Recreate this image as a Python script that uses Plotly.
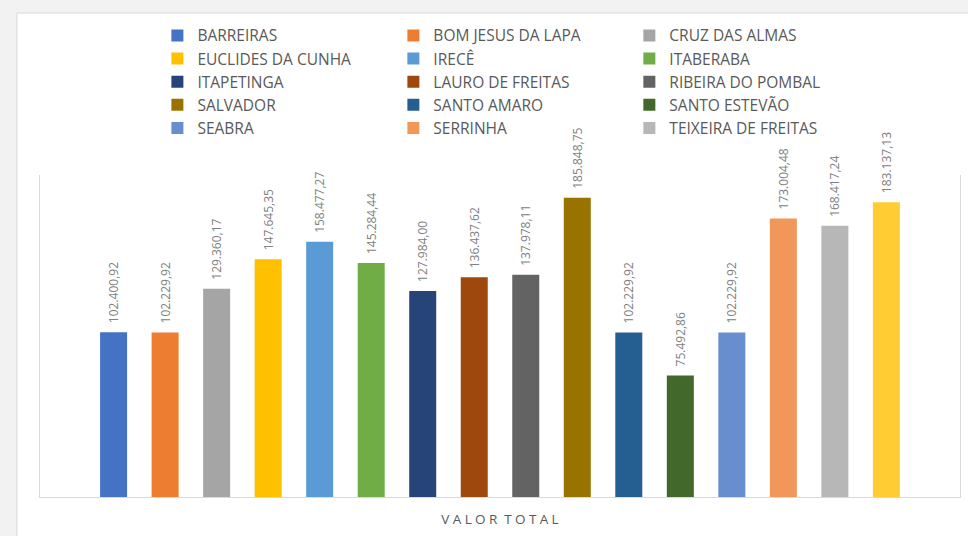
import plotly.graph_objects as go

names = ["BARREIRAS", "BOM JESUS DA LAPA", "CRUZ DAS ALMAS", "EUCLIDES DA CUNHA",
         "IRECÊ", "ITABERABA", "ITAPETINGA", "LAURO DE FREITAS", "RIBEIRA DO POMBAL",
         "SALVADOR", "SANTO AMARO", "SANTO ESTEVÃO", "SEABRA", "SERRINHA",
         "TEIXEIRA DE FREITAS", ""]
values = [102400.92, 102229.92, 129360.17, 147645.35, 158477.27, 145284.44,
          127984.00, 136437.62, 137978.11, 185848.75, 102229.92, 75492.86,
          102229.92, 173004.48, 168417.24, 183137.13]
colors = ["#4472C4", "#ED7D31", "#A5A5A5", "#FFC000", "#5B9BD5", "#70AD47",
          "#264478", "#9E480E", "#636363", "#997300", "#255E91", "#43682B",
          "#698ED0", "#F1975A", "#B7B7B7", "#FFCD33"]
category = ["VALOR TOTAL"]

FONT = "Open Sans"


def br(v):
    s = f"{v:,.2f}"
    return s.replace(",", "X").replace(".", ",").replace("X", ".")


legend_ids = ["legend", "legend2", "legend3"]

fig = go.Figure()
for i, (n, v, c) in enumerate(zip(names, values, colors)):
    fig.add_trace(go.Bar(
        x=category, y=[v], name=n, marker_color=c, marker_line_width=0,
        text=["\u2002" + br(v)], textposition="outside", textangle=-90,
        constraintext="none",
        textfont=dict(size=12, color="#808080", family=FONT),
        cliponaxis=False, showlegend=(n != ""), hoverinfo="skip",
        legend=legend_ids[i % 3],
    ))

leg_common = dict(orientation="v", yanchor="top", y=1.485, xanchor="left",
                  font=dict(size=15.5, color="#595959", family=FONT),
                  bgcolor="rgba(0,0,0,0)", itemclick=False, itemdoubleclick=False,
                  tracegroupgap=0)
lx = [0.1276, 0.3841, 0.6406]

fig.update_layout(
    width=968, height=536,
    margin=dict(l=40, r=8, t=175, b=39),
    paper_bgcolor="#f2f2f2", plot_bgcolor="white",
    barmode="group", bargap=0.104, bargroupgap=0.476,
    font=dict(family=FONT, color="#595959"),
    showlegend=True,
    legend=dict(x=lx[0], **leg_common),
    legend2=dict(x=lx[1], **leg_common),
    legend3=dict(x=lx[2], **leg_common),
    shapes=[dict(type="rect", xref="paper", yref="paper", x0=-0.025, x1=1.02,
                 y0=-0.2, y1=1.503, fillcolor="white",
                 line=dict(color="#d9d9d9", width=1), layer="below")],
)
fig.update_xaxes(showline=True, linecolor="#d9d9d9", linewidth=1,
                 showticklabels=False, ticks="",
                 title=dict(text="V\u2005A\u2005L\u2005O\u2005R\u2005 T\u2005O\u2005T\u2005A\u2005L",
                            font=dict(size=13.5, color="#595959", family=FONT), standoff=17))
fig.update_yaxes(range=[0, 200000], showline=True, mirror=True, linecolor="#d9d9d9",
                 linewidth=1, showgrid=False, showticklabels=False, ticks="",
                 zeroline=False)

fig.write_html("out.html", config={"displayModeBar": False},
               post_script="document.body.style.margin='0';")
